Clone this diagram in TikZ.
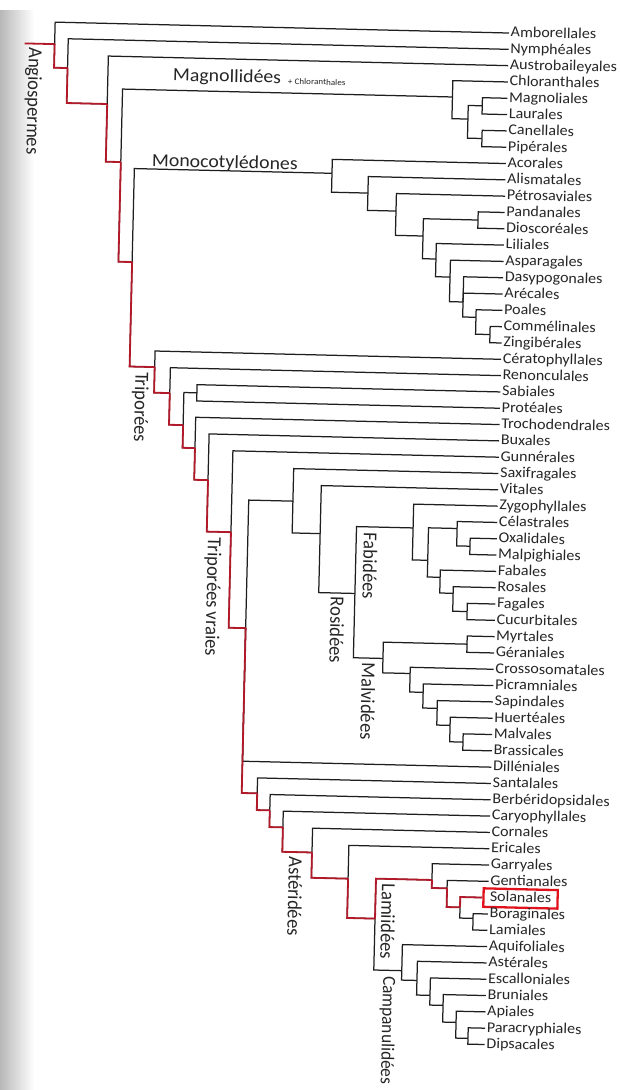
\documentclass[tikz,border=0pt]{standalone}
\usepackage{fontspec}
\setmainfont{Carlito}
\definecolor{ink}{HTML}{1E1E1E}
\definecolor{txt}{HTML}{262626}
\definecolor{hlred}{HTML}{B21A2A}
\definecolor{boxred}{HTML}{E0121C}
\newcommand\Tset[3]{\expandafter\xdef\csname tx#1\endcsname{#2}\expandafter\xdef\csname ty#1\endcsname{#3}}
\newcommand\Tnode[3]{\Tset{#1}{#2}{#3}\coordinate (#1) at (#2,#3);}
\newcommand\Tleaf[3]{\pgfmathsetmacro\lfy{33+(#2-1)*16.32}\Tset{#1}{509}{\lfy}\node[leaf] (#1) at (509,\lfy) {#3};}
\newcommand\Tbr[3][branch]{\edef\cx{\csname tx#2\endcsname}\edef\cy{\csname ty#3\endcsname}\draw[#1] (#2) -- (\cx,\cy) -- (#3);}
\begin{document}
\begin{tikzpicture}[x=1pt,y=-1pt,
  leaf/.style={anchor=west, inner xsep=1.5pt, inner ysep=0pt, text height=11pt, text depth=3.5pt,
     font=\fontsize{15}{15}\selectfont, text=txt, xscale=1.07},
  solbox/.style={leaf, draw=boxred, line width=2.3pt, inner xsep=6pt, inner ysep=2pt},
  branch/.style={draw=ink, line width=1.25pt, line join=miter},
  hl/.style={draw=hlred, line width=1.8pt, line join=miter},
  grp/.style={font=\fontsize{18.5}{18.5}\selectfont, text=txt, inner sep=0pt},
  vgrp/.style={grp, rotate=-90, yscale=1.07},
  hgrp/.style={grp, anchor=west, xscale=1.07}]
\useasboundingbox (0,0) rectangle (620,1090);
\shade[left color=black!28, right color=white] (0,10) rectangle (34,1090);
\begin{scope}[rotate around={-1.375:(508,33)}, transform shape]
% leaves
\Tleaf{L1}{1}{Amborellales}
\Tleaf{L2}{2}{Nymphéales}
\Tleaf{L3}{3}{Austrobaileyales}
\Tleaf{L4}{4}{Chloranthales}
\Tleaf{L5}{5}{Magnoliales}
\Tleaf{L6}{6}{Laurales}
\Tleaf{L7}{7}{Canellales}
\Tleaf{L8}{8}{Pipérales}
\Tleaf{L9}{9}{Acorales}
\Tleaf{L10}{10}{Alismatales}
\Tleaf{L11}{11}{Pétrosaviales}
\Tleaf{L12}{12}{Pandanales}
\Tleaf{L13}{13}{Dioscoréales}
\Tleaf{L14}{14}{Liliales}
\Tleaf{L15}{15}{Asparagales}
\Tleaf{L16}{16}{Dasypogonales}
\Tleaf{L17}{17}{Arécales}
\Tleaf{L18}{18}{Poales}
\Tleaf{L19}{19}{Commélinales}
\Tleaf{L20}{20}{Zingibérales}
\Tleaf{L21}{21}{Cératophyllales}
\Tleaf{L22}{22}{Renonculales}
\Tleaf{L23}{23}{Sabiales}
\Tleaf{L24}{24}{Protéales}
\Tleaf{L25}{25}{Trochodendrales}
\Tleaf{L26}{26}{Buxales}
\Tleaf{L27}{27}{Gunnérales}
\Tleaf{L28}{28}{Saxifragales}
\Tleaf{L29}{29}{Vitales}
\Tleaf{L30}{30}{Zygophyllales}
\Tleaf{L31}{31}{Célastrales}
\Tleaf{L32}{32}{Oxalidales}
\Tleaf{L33}{33}{Malpighiales}
\Tleaf{L34}{34}{Fabales}
\Tleaf{L35}{35}{Rosales}
\Tleaf{L36}{36}{Fagales}
\Tleaf{L37}{37}{Cucurbitales}
\Tleaf{L38}{38}{Myrtales}
\Tleaf{L39}{39}{Géraniales}
\Tleaf{L40}{40}{Crossosomatales}
\Tleaf{L41}{41}{Picramniales}
\Tleaf{L42}{42}{Sapindales}
\Tleaf{L43}{43}{Huertéales}
\Tleaf{L44}{44}{Malvales}
\Tleaf{L45}{45}{Brassicales}
\Tleaf{L46}{46}{Dilléniales}
\Tleaf{L47}{47}{Santalales}
\Tleaf{L48}{48}{Berbéridopsidales}
\Tleaf{L49}{49}{Caryophyllales}
\Tleaf{L50}{50}{Cornales}
\Tleaf{L51}{51}{Ericales}
\Tleaf{L52}{52}{Garryales}
\Tleaf{L53}{53}{Gentianales}
\pgfmathsetmacro\lfy{33+53*16.32}\Tset{L54}{503}{\lfy}
\node[solbox] (L54) at (503,\lfy) {Solanales};
\Tleaf{L55}{55}{Boraginales}
\Tleaf{L56}{56}{Lamiales}
\Tleaf{L57}{57}{Aquifoliales}
\Tleaf{L58}{58}{Astérales}
\Tleaf{L59}{59}{Escalloniales}
\Tleaf{L60}{60}{Bruniales}
\Tleaf{L61}{61}{Apiales}
\Tleaf{L62}{62}{Paracryphiales}
\Tleaf{L63}{63}{Dipsacales}
% internal nodes
\Tnode{root}{25}{55}
\Tnode{R0}{55}{55}
\Tnode{R1}{68.5}{78.6}
\Tnode{R2}{109}{113.6}
\Tnode{R3}{124}{171.3}
\Tnode{M}{454}{98.3}
\Tnode{M1}{470}{120}
\Tnode{M2}{484}{106.4}
\Tnode{M3}{484.5}{139.1}
\Tnode{R4}{137.7}{271}
\Tnode{Mo}{335.4}{177.5}
\Tnode{Mo1}{371.8}{196.4}
\Tnode{Mo2}{400.3}{213.7}
\Tnode{Mo3}{427.9}{238}
\Tnode{Mo4}{482.5}{220.7}
\Tnode{Mo5}{441.4}{260.7}
\Tnode{Mo6}{455.9}{278.4}
\Tnode{Mo7}{469.5}{303}
\Tnode{Mo8}{482.8}{318}
\Tnode{Mo9}{497.2}{334.9}
\Tnode{E0}{162.8}{375.5}
\Tnode{E1}{178.5}{401.1}
\Tnode{E2}{192.6}{432.8}
\Tnode{SP}{205.6}{400.2}
\Tnode{E3}{205}{455.5}
\Tnode{E4}{218.8}{487.2}
\Tnode{E5}{243}{538.7}
\Tnode{E6}{260}{634.3}
\Tnode{S}{304.2}{506.2}
\Tnode{Ro}{332.2}{538}
\Tnode{Rc}{368.4}{597}
\Tnode{Fa}{425}{530.1}
\Tnode{Fa1}{440.4}{562.1}
\Tnode{Fa2}{469}{529.6}
\Tnode{Fa4}{482.3}{547}
\Tnode{Fa3}{453.2}{578.8}
\Tnode{Fa5}{466.6}{594.5}
\Tnode{Fa6}{481}{612.4}
\Tnode{Ma}{398}{661.3}
\Tnode{Ma1}{481.7}{645}
\Tnode{Ma2}{425.5}{675.7}
\Tnode{Ma3}{439}{694.2}
\Tnode{Ma4}{453.4}{709.9}
\Tnode{Ma5}{466.7}{726.6}
\Tnode{Ma6}{480}{743}
\Tnode{SA}{275.5}{799.2}
\Tnode{SA1}{288.5}{815.9}
\Tnode{SA2}{302}{832.6}
\Tnode{As}{331.7}{857}
\Tnode{As1}{368.4}{882.3}
\Tnode{Eu}{396.3}{921.6}
\Tnode{La}{452.3}{881.6}
\Tnode{La1}{467.6}{889.6}
\Tnode{La2}{481}{908.3}
\Tnode{La3}{494.3}{919}
\Tnode{Ca}{424.3}{973}
\Tnode{Ca1}{439.7}{982.4}
\Tnode{Ca2}{453.1}{997}
\Tnode{Ca3}{466.4}{1006.7}
\Tnode{Ca4}{479.8}{1023.4}
\Tnode{Ca5}{492.1}{1039.1}
% branches
\Tbr{R0}{L1}\Tbr{R0}{R1}
\Tbr{R1}{L2}\Tbr{R1}{R2}
\Tbr{R2}{L3}\Tbr{R2}{R3}
\Tbr{R3}{M}\Tbr{R3}{R4}
\Tbr{M}{L4}\Tbr{M}{M1}
\Tbr{M1}{M2}\Tbr{M1}{M3}
\Tbr{M2}{L5}\Tbr{M2}{L6}
\Tbr{M3}{L7}\Tbr{M3}{L8}
\Tbr{R4}{Mo}\Tbr{R4}{E0}
\Tbr{Mo}{L9}\Tbr{Mo}{Mo1}
\Tbr{Mo1}{L10}\Tbr{Mo1}{Mo2}
\Tbr{Mo2}{L11}\Tbr{Mo2}{Mo3}
\Tbr{Mo3}{Mo4}\Tbr{Mo3}{Mo5}
\Tbr{Mo4}{L12}\Tbr{Mo4}{L13}
\Tbr{Mo5}{L14}\Tbr{Mo5}{Mo6}
\Tbr{Mo6}{L15}\Tbr{Mo6}{Mo7}
\Tbr{Mo7}{L16}\Tbr{Mo7}{L17}\Tbr{Mo7}{Mo8}
\Tbr{Mo8}{L18}\Tbr{Mo8}{Mo9}
\Tbr{Mo9}{L19}\Tbr{Mo9}{L20}
\Tbr{E0}{L21}\Tbr{E0}{E1}
\Tbr{E1}{L22}\Tbr{E1}{E2}
\Tbr{E2}{SP}\Tbr{E2}{E3}
\Tbr{SP}{L23}\Tbr{SP}{L24}
\Tbr{E3}{L25}\Tbr{E3}{E4}
\Tbr{E4}{L26}\Tbr{E4}{E5}
\Tbr{E5}{L27}\Tbr{E5}{E6}
\Tbr{E6}{S}\Tbr{E6}{L46}\Tbr{E6}{SA}
\Tbr{S}{L28}\Tbr{S}{Ro}
\Tbr{Ro}{L29}\Tbr{Ro}{Rc}
\Tbr{Rc}{Fa}\Tbr{Rc}{Ma}
\Tbr{Fa}{L30}\Tbr{Fa}{Fa1}
\Tbr{Fa1}{Fa2}\Tbr{Fa1}{Fa3}
\Tbr{Fa2}{L31}\Tbr{Fa2}{Fa4}
\Tbr{Fa4}{L32}\Tbr{Fa4}{L33}
\Tbr{Fa3}{L34}\Tbr{Fa3}{Fa5}
\Tbr{Fa5}{L35}\Tbr{Fa5}{Fa6}
\Tbr{Fa6}{L36}\Tbr{Fa6}{L37}
\Tbr{Ma}{Ma1}\Tbr{Ma}{Ma2}
\Tbr{Ma1}{L38}\Tbr{Ma1}{L39}
\Tbr{Ma2}{L40}\Tbr{Ma2}{Ma3}
\Tbr{Ma3}{L41}\Tbr{Ma3}{Ma4}
\Tbr{Ma4}{L42}\Tbr{Ma4}{Ma5}
\Tbr{Ma5}{L43}\Tbr{Ma5}{Ma6}
\Tbr{Ma6}{L44}\Tbr{Ma6}{L45}
\Tbr{SA}{L47}\Tbr{SA}{SA1}
\Tbr{SA1}{L48}\Tbr{SA1}{SA2}
\Tbr{SA2}{L49}\Tbr{SA2}{As}
\Tbr{As}{L50}\Tbr{As}{As1}
\Tbr{As1}{L51}\Tbr{As1}{Eu}
\Tbr{Eu}{La}\Tbr{Eu}{Ca}
\Tbr{La}{L52}\Tbr{La}{La1}
\Tbr{La1}{L53}\Tbr{La1}{La2}
\Tbr{La2}{L54}\Tbr{La2}{La3}
\Tbr{La3}{L55}\Tbr{La3}{L56}
\Tbr{Ca}{L57}\Tbr{Ca}{Ca1}
\Tbr{Ca1}{L58}\Tbr{Ca1}{Ca2}
\Tbr{Ca2}{L59}\Tbr{Ca2}{Ca3}
\Tbr{Ca3}{L60}\Tbr{Ca3}{Ca4}
\Tbr{Ca4}{L61}\Tbr{Ca4}{Ca5}
\Tbr{Ca5}{L62}\Tbr{Ca5}{L63}
% highlighted path to Solanales
\draw[hl] (root) -- (R0);
\Tbr[hl]{R0}{R1}\Tbr[hl]{R1}{R2}\Tbr[hl]{R2}{R3}\Tbr[hl]{R3}{R4}
\Tbr[hl]{R4}{E0}\Tbr[hl]{E0}{E1}\Tbr[hl]{E1}{E2}\Tbr[hl]{E2}{E3}
\Tbr[hl]{E3}{E4}\Tbr[hl]{E4}{E5}\Tbr[hl]{E5}{E6}\Tbr[hl]{E6}{SA}
\Tbr[hl]{SA}{SA1}\Tbr[hl]{SA1}{SA2}\Tbr[hl]{SA2}{As}\Tbr[hl]{As}{As1}
\Tbr[hl]{As1}{Eu}\Tbr[hl]{Eu}{La}\Tbr[hl]{La}{La1}\Tbr[hl]{La1}{La2}
\Tbr[hl]{La2}{L54}
% group labels
\node[vgrp] (gAng) at (34.6,112.4) {Angiospermes};
\node[hgrp] (gMag) at (174,84) {Magnollidées};
\node[anchor=west, inner sep=0pt, font=\fontsize{8.5}{8.5}\selectfont, text=txt, xscale=1.07] (gChl) at (289,86.5) {+ Chloranthales};
\node[hgrp] (gMono) at (155,169.8) {Monocotylédones};
\node[vgrp] (gTri) at (149,415.8) {Triporées};
\node[vgrp] (gTriV) at (225.5,604) {Triporées vraies};
\node[vgrp] (gRos) at (351.3,634) {Rosidées};
\node[vgrp] (gFab) at (382.8,569.3) {Fabidées};
\node[vgrp] (gMal) at (384,704.4) {Malvidées};
\node[vgrp] (gAst) at (315.7,901) {Astéridées};
\node[vgrp] (gLam) at (409.3,924) {Lamiidées};
\node[vgrp, font=\fontsize{17.3}{17.3}\selectfont] (gCam) at (411,1033) {Campanulidées};
\end{scope}
\end{tikzpicture}
\end{document}
